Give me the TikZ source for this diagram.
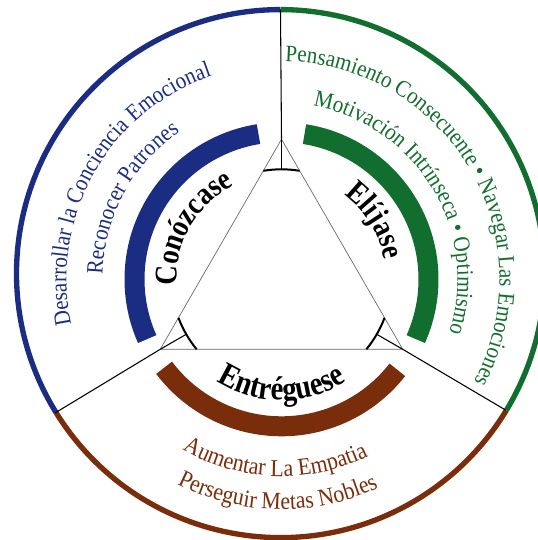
\documentclass[tikz,border=0pt]{standalone}
\usepackage{fontspec}
\setmainfont{Liberation Serif}
\newfontfamily\narrowserif[FakeStretch=0.9]{Liberation Serif}
\newfontfamily\narrowbold[FakeStretch=0.86]{Liberation Serif}
\usetikzlibrary{decorations.text}
\definecolor{cblue}{RGB}{27,44,131}
\definecolor{cgreen}{RGB}{18,110,46}
\definecolor{cbrown}{RGB}{121,45,10}
\newcommand{\bigfont}{\narrowbold\bfseries\fontsize{23.6}{27}\selectfont}
\newcommand{\widebigfont}{\narrowbold\bfseries\fontsize{25}{28}\selectfont}
\newcommand{\smallfont}{\narrowserif\fontsize{17.6}{21}\selectfont}
\newcommand{\brownfont}{\narrowserif\fontsize{18.2}{21}\selectfont}
\begin{document}
\begin{tikzpicture}[x=0.75pt,y=0.75pt,
  tri/.style={draw=black!60, line width=0.5pt},
  radial/.style={draw=black, line width=0.8pt},
  tick/.style={draw=black, line width=1.5pt},
  band/.style={line width=15pt},
  rim/.style={line width=4pt},
  ctext/.style n args={3}{decorate, decoration={text along path, text align=center, text color=#1, text={|#2|#3}}}
  ]
\useasboundingbox (0,0) rectangle (538,540);
\clip (0,0) rectangle (538,540);
% centres
\coordinate (T) at (281.5,260.7);
\coordinate (O) at (280.5,266.4);
% triangle vertices
\path (T) ++(90:140) coordinate (A);
\path (T) ++(210:140) coordinate (B);
\path (T) ++(330:140) coordinate (C);
% rim junctions
\coordinate (J1) at (280.5,530.4);
\coordinate (J2) at (55,127);
\coordinate (J3) at (505.5,130);
% tick ends
\path (T) ++(90:110) coordinate (a1);
\path (T) ++(210:110) coordinate (b1);
\path (T) ++(330:110) coordinate (c1);

% outer rim
\draw[rim, cblue] (O) ++(90:264) arc[start angle=90, end angle=211.7, radius=264];
\draw[rim, cbrown] (O) ++(211.7:264) arc[start angle=211.7, end angle=328.8, radius=264];
\draw[rim, cgreen] (O) ++(328.8:264) arc[start angle=328.8, end angle=450, radius=264];

% radial separators
\draw[radial] (A) -- (J1);
\draw[radial] (B) -- (J2);
\draw[radial] (C) -- (J3);

% triangle
\draw[tri] (A) -- (B) -- (C) -- cycle;

% angle marks
\draw[radial] (A) -- (a1);
\draw[radial] (B) -- (b1);
\draw[radial] (C) -- (c1);
\draw[tick] (T) ++(80.5:110) arc[start angle=80.5, end angle=99.5, radius=110];
\draw[tick] (T) ++(200.5:110) arc[start angle=200.5, end angle=219.5, radius=110];
\draw[tick] (T) ++(320.5:110) arc[start angle=320.5, end angle=339.5, radius=110];

% thick bands
\draw[band, cblue] (T) ++(99:147) arc[start angle=99, end angle=204, radius=147];
\draw[band, cgreen] (T) ++(-24:147) arc[start angle=-24, end angle=81, radius=147];
\draw[band, cbrown] (T) ++(217:147) arc[start angle=217, end angle=322, radius=147];

% main labels
\path[ctext={black}{\bigfont}{Conózcase}] (T) ++(230:105) arc[start angle=230, end angle=70, radius=105];
\path[ctext={black}{\bigfont}{Elíjase}] (T) ++(112:105) arc[start angle=112, end angle=-48, radius=105];
\path[ctext={black}{\widebigfont}{Entréguese}] (T) ++(190:121) arc[start angle=190, end angle=350, radius=121];

% blue texts
\path[ctext={cblue}{\smallfont}{Desarrollar la Conciencia Emocional}] (T) ++(235:215) arc[start angle=235, end angle=66, radius=215];
\path[ctext={cblue}{\smallfont}{Reconocer Patrones}] (T) ++(235:179) arc[start angle=235, end angle=68, radius=179];

% green texts
\path[ctext={cgreen}{\smallfont}{Pensamiento Consecuente • Navegar Las Emociones}] (T) ++(120:218) arc[start angle=120, end angle=-59, radius=218];
\path[ctext={cgreen}{\smallfont}{Motivación Intrínseca • Optimismo}] (T) ++(115:176) arc[start angle=115, end angle=-53, radius=176];

% brown texts
\path[ctext={cbrown}{\brownfont}{Aumentar La Empatia}] (T) ++(190:197) arc[start angle=190, end angle=346, radius=197];
\path[ctext={cbrown}{\brownfont}{Perseguir Metas Nobles}] (T) ++(190:230) arc[start angle=190, end angle=348, radius=230];
\end{tikzpicture}
\end{document}
